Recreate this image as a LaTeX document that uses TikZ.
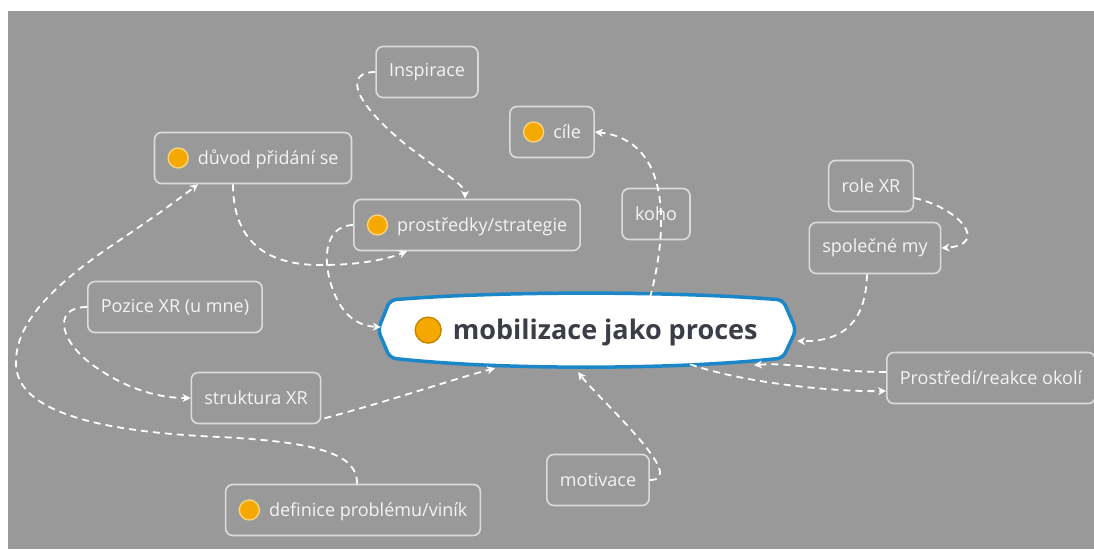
\documentclass[tikz,border=0pt]{standalone}
\usepackage{fontspec}
\setmainfont{Open Sans}
\usepackage{xcolor}
\usetikzlibrary{arrows.meta}

\definecolor{bggray}{HTML}{999999}
\definecolor{boxline}{HTML}{DCDCDC}
\definecolor{boxtext}{HTML}{F4F4F4}
\definecolor{dotfill}{HTML}{F5A800}
\definecolor{dotline}{HTML}{F9D37E}
\definecolor{mainblue}{HTML}{1B87C9}
\definecolor{maintext}{HTML}{3B3E46}

\newcommand{\smalldot}{\tikz[baseline=-6pt]\draw[line width=1.4pt,draw=dotline,fill=dotfill] (0,0) circle (10pt);}
\newcommand{\bigdot}{\tikz[baseline=-9pt]\draw[line width=1.4pt,draw=dotfill!80!black,fill=dotfill] (0,0) circle (13pt);}

\begin{document}
\begin{tikzpicture}[x=1pt,y=-1pt,
  box/.style={draw=boxline,line width=1.6pt,rounded corners=7pt,minimum height=51pt,
    inner xsep=13pt,text=boxtext,font=\fontsize{18}{21}\selectfont},
  link/.style={draw=white,line width=1.8pt,dash pattern=on 7pt off 5pt,
    -{Stealth[length=8pt,width=8pt]}}]
\useasboundingbox (0,0) rectangle (1094,549);
\fill[white] (0,0) rectangle (1094,549);
\fill[bggray] (8,11) rectangle (1094,549);

% central topic
\draw[line width=3.5pt,draw=mainblue,fill=white,rounded corners=6pt]
  (378,330) -- (390,300) .. controls (500,291) and (672,291) .. (783,300) -- (796,330)
  -- (783,358) .. controls (672,370) and (500,370) .. (390,358) -- cycle;
\node[minimum width=410pt,minimum height=66pt,inner sep=0pt,text=maintext,
  font=\fontsize{27}{32}\selectfont\bfseries] (main) at (586,331)
  {\bigdot\hspace{11pt}mobilizace jako proces};

% boxes
\node[box] (insp) at (427,72) {Inspirace};
\node[box] (cile) at (552,132) {\smalldot\hspace{9pt}cíle};
\node[box] (duvod) at (253,158) {\smalldot\hspace{9pt}důvod přidání se};
\node[box] (prost) at (467,225) {\smalldot\hspace{9pt}prostředky/strategie};
\node[box] (koho) at (656,214) {koho};
\node[box] (role) at (871,186) {role XR};
\node[box] (spol) at (875,248) {společné my};
\node[box] (pozice) at (175,307) {Pozice XR (u mne)};
\node[box] (strukt) at (256,398) {struktura XR};
\node[box] (okoli) at (991,378) {Prostředí/reakce okolí};
\node[box] (motiv) at (598,480) {motivace};
\node[box] (defin) at (353,510) {\smalldot\hspace{9pt}definice problému/viník};

% links
\draw[link] (insp.west) .. controls (345,72) and (350,100) .. (410,148)
  .. controls (450,178) and (465,185) .. ([xshift=-2pt]prost.north);
\draw[link] ([xshift=64pt]main.north) .. controls (668,230) and (672,140) .. (cile.east);
\draw[link] ([yshift=-12pt]role.east) .. controls (960,208) and (990,245) .. (spol.east);
\draw[link] ([xshift=-8pt]spol.south) .. controls (866,320) and (845,342) .. ([xshift=6pt,yshift=-10pt]main.east);
\draw[link] ([yshift=6pt]okoli.west) .. controls (830,372) and (790,362) .. ([xshift=168pt,yshift=-1pt]main.south);
\draw[link] ([xshift=104pt]main.south) .. controls (740,382) and (830,392) .. ([yshift=-13pt]okoli.west);
\draw[link] (motiv.east) .. controls (690,480) and (600,400) .. ([xshift=-8pt,yshift=-8pt]main.south);
\draw[link] ([xshift=3pt,yshift=6pt]strukt.south east) .. controls (400,398) and (450,380) .. ([xshift=-91pt,yshift=-4pt]main.south);
\draw[link] (pozice.west) .. controls (50,307) and (60,345) .. (100,370)
  .. controls (130,390) and (160,398) .. (strukt.west);
\draw[link] ([xshift=4pt]defin.north) .. controls (358,455) and (320,442) .. (220,437)
  .. controls (100,432) and (18,412) .. (16,365) .. controls (14,320) and (60,280) .. (120,240)
  .. controls (160,213) and (180,198) .. ([xshift=-55pt]duvod.south);
\draw[link] ([xshift=-20pt]duvod.south) .. controls (233,240) and (265,265) .. (320,265)
  .. controls (365,265) and (390,258) .. ([xshift=-60pt]prost.south);
\draw[link] (prost.west) .. controls (322,226) and (322,265) .. (335,295)
  .. controls (345,318) and (360,326) .. ([yshift=4pt]main.west);
\end{tikzpicture}
\end{document}
